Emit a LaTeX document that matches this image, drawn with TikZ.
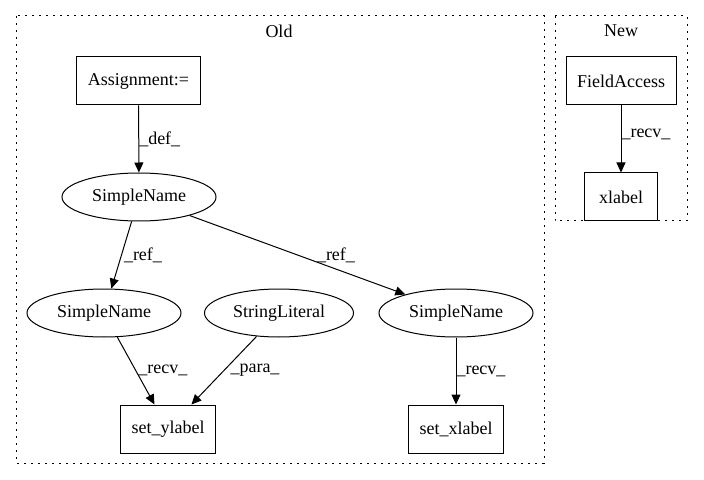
\documentclass[tikz,border=0pt]{standalone}
\usepackage{fontspec}
\setmainfont{Liberation Serif}
\usetikzlibrary{arrows.meta,shapes.geometric}
\begin{document}
\begin{tikzpicture}[x=1bp,y=-1bp,line width=1bp,>={Triangle[length=10bp,width=9bp]},
    font=\fontsize{18bp}{20bp}\selectfont,
    box node/.style={rectangle,draw,inner xsep=11bp,minimum width=73bp,minimum height=48bp},
    oval node/.style={ellipse,draw,inner sep=0,minimum width=154bp,minimum height=48bp},
    cluster/.style={draw,dash pattern=on 2bp off 5bp}]
    \useasboundingbox (0,0) rectangle (704,480);

    % clusters
    \draw[cluster] (16,16) rectangle (544,463);
    \draw[cluster] (555,16) rectangle (687,221);
    \node at (279,31) (old) {Old};
    \node at (621,31) (new) {New};

    \node[box node] at (138.5,81) (assign) {Assignment:=};
    \node[oval node] at (139,197) (sn) {SimpleName};
    \node[oval node] at (104,313) (snl) {SimpleName};
    \node[oval node, minimum width=149bp] at (279,313) (lit) {StringLiteral};
    \node[oval node] at (456,313) (snr) {SimpleName};
    \node[box node] at (168,429) (ylab) {set\_ylabel};
    \node[box node] at (456,429) (xlab) {set\_xlabel};

    \node[box node] at (621,81) (field) {FieldAccess};
    \node[box node] at (621,197) (xl) {xlabel};

    \path[->,every node/.style={anchor=west,inner sep=0}]
        (assign) edge node {\_def\_} (sn)
        (sn) edge node[xshift=2bp] {\_ref\_} (snl)
        (sn) edge node[xshift=19bp] {\_ref\_} (snr)
        (snl) edge node[xshift=2bp] {\_recv\_} (ylab)
        (lit) edge node[xshift=6bp] {\_para\_} (ylab)
        (snr) edge node {\_recv\_} (xlab)
        (field) edge node[yshift=5bp] {\_recv\_} (xl)
        ;
\end{tikzpicture}
\end{document}
